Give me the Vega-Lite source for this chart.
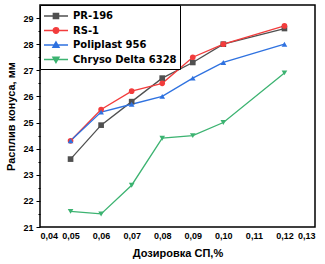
{
  "$schema": "https://vega.github.io/schema/vega-lite/v6.json",
  "width": 275,
  "height": 222,
  "autosize": {"type": "none"},
  "padding": {"left": 40, "top": 5, "right": 10, "bottom": 37},
  "background": "white",
  "config": {
    "view": {"stroke": "black", "strokeWidth": 1.5},
    "font": "Liberation Sans",
    "axis": {"grid": false, "domain": false, "tickColor": "black", "tickSize": 4, "labelFont": "Liberation Sans", "labelFontWeight": "bold", "labelFontSize": 9, "labelColor": "black", "labelOverlap": false, "titleFont": "Liberation Sans", "titleFontWeight": "bold", "titleFontSize": 11, "titleColor": "black"}
  },
  "data": {"values": [
    {"d": 0.05, "v": 23.6, "s": "PR-196"},
    {"d": 0.06, "v": 24.9, "s": "PR-196"},
    {"d": 0.07, "v": 25.8, "s": "PR-196"},
    {"d": 0.08, "v": 26.7, "s": "PR-196"},
    {"d": 0.09, "v": 27.3, "s": "PR-196"},
    {"d": 0.10, "v": 28.0, "s": "PR-196"},
    {"d": 0.12, "v": 28.6, "s": "PR-196"},
    {"d": 0.05, "v": 24.3, "s": "RS-1"},
    {"d": 0.06, "v": 25.5, "s": "RS-1"},
    {"d": 0.07, "v": 26.2, "s": "RS-1"},
    {"d": 0.08, "v": 26.5, "s": "RS-1"},
    {"d": 0.09, "v": 27.5, "s": "RS-1"},
    {"d": 0.10, "v": 28.0, "s": "RS-1"},
    {"d": 0.12, "v": 28.7, "s": "RS-1"},
    {"d": 0.05, "v": 24.3, "s": "Poliplast 956"},
    {"d": 0.06, "v": 25.4, "s": "Poliplast 956"},
    {"d": 0.07, "v": 25.7, "s": "Poliplast 956"},
    {"d": 0.08, "v": 26.0, "s": "Poliplast 956"},
    {"d": 0.09, "v": 26.7, "s": "Poliplast 956"},
    {"d": 0.10, "v": 27.3, "s": "Poliplast 956"},
    {"d": 0.12, "v": 28.0, "s": "Poliplast 956"},
    {"d": 0.05, "v": 21.6, "s": "Chryso Delta 6328"},
    {"d": 0.06, "v": 21.5, "s": "Chryso Delta 6328"},
    {"d": 0.07, "v": 22.6, "s": "Chryso Delta 6328"},
    {"d": 0.08, "v": 24.4, "s": "Chryso Delta 6328"},
    {"d": 0.09, "v": 24.5, "s": "Chryso Delta 6328"},
    {"d": 0.10, "v": 25.0, "s": "Chryso Delta 6328"},
    {"d": 0.12, "v": 26.9, "s": "Chryso Delta 6328"}
  ]},
  "layer": [
    {"mark": {"type": "line", "strokeWidth": 1.3},
      "encoding": {
        "x": {"field": "d", "type": "quantitative", "scale": {"domain": [0.04, 0.13], "nice": false, "zero": false},
          "axis": {"values": [0.04, 0.05, 0.06, 0.07, 0.08, 0.09, 0.10, 0.11, 0.12, 0.13], "labelExpr": "replace(format(datum.value, '.2f'), '.', ',')", "title": "Дозировка СП,%", "titlePadding": 7, "ticks": false, "labelPadding": 4}},
        "y": {"field": "v", "type": "quantitative", "scale": {"domain": [21, 29.5], "nice": false, "zero": false},
          "axis": {"orient": "left", "values": [21, 22, 23, 24, 25, 26, 27, 28, 29], "title": "Расплив конуса, мм", "titlePadding": 6, "labelPadding": 3}},
        "color": {"field": "s", "type": "nominal", "sort": ["PR-196", "RS-1", "Poliplast 956", "Chryso Delta 6328"],
          "scale": {"domain": ["PR-196", "RS-1", "Poliplast 956", "Chryso Delta 6328"], "range": ["#505050", "#f23c3c", "#2f72e0", "#3cb371"]},
          "legend": {"title": null, "orient": "none", "legendX": 0, "legendY": 0, "strokeColor": "black", "fillColor": "white", "padding": 3,
            "labelFont": "DejaVu Sans", "labelFontWeight": "bold", "labelFontSize": 10, "labelColor": "black", "symbolSize": 196, "rowPadding": 0.5, "labelOffset": 14,
            "encode": {"symbols": {"update": {"shape": {"signal": "datum.value === 'PR-196' ? 'M-1,0H2.43M0.33,-0.38H1.09V0.38H0.33Z' : datum.value === 'RS-1' ? 'M-1,0H2.43M1.11,0A0.4,0.4 0 1,1 0.31,0A0.4,0.4 0 1,1 1.11,0Z' : datum.value === 'Poliplast 956' ? 'M-1,0H2.43M0.71,-0.45L1.16,0.35H0.26Z' : 'M-1,0H2.43M0.71,0.45L1.16,-0.35H0.26Z'"}, "fill": {"scale": "color", "field": "value"}, "strokeWidth": {"value": 1.3}}}}}
        }
      }
    },
    {"mark": {"type": "point", "filled": true, "opacity": 1, "size": 32},
      "encoding": {
        "x": {"field": "d", "type": "quantitative",
          "axis": {"values": [0.04, 0.05, 0.06, 0.07, 0.08, 0.09, 0.10, 0.11, 0.12, 0.13], "labelExpr": "replace(format(datum.value, '.2f'), '.', ',')", "title": "Дозировка СП,%", "titlePadding": 7, "ticks": false, "labelPadding": 4}},
        "y": {"field": "v", "type": "quantitative",
          "axis": {"orient": "left", "values": [21.5, 22.5, 23.5, 24.5, 25.5, 26.5, 27.5, 28.5], "labels": false, "title": null, "tickSize": 2}},
        "color": {"field": "s", "type": "nominal", "legend": null},
        "shape": {"field": "s", "type": "nominal", "legend": null, "scale": {"domain": ["PR-196", "RS-1", "Poliplast 956", "Chryso Delta 6328"], "range": ["square", "circle", "triangle-up", "triangle-down"]}}
      }
    }
  ],
  "resolve": {"axis": {"y": "independent"}, "legend": {"color": "independent"}, "scale": {"y": "shared", "color": "shared"}}
}
